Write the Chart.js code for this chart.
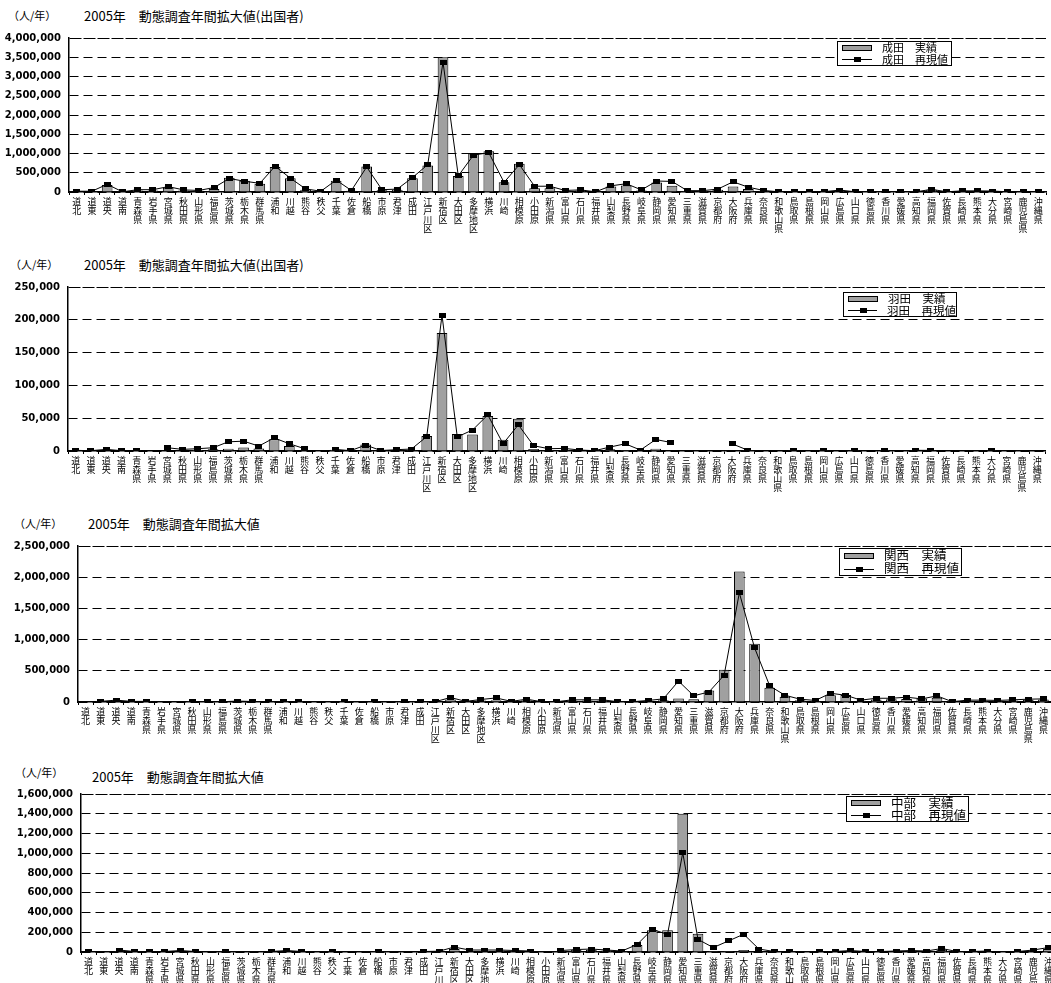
<!DOCTYPE html>
<html lang="ja">
<head>
<meta charset="utf-8">
<title>2005年 動態調査年間拡大値</title>
<script src="https://cdn.jsdelivr.net/npm/chart.js@4/dist/chart.umd.min.js"></script>
<style>
  html, body { margin:0; padding:0; background:#fff; width:1051px; height:983px; overflow:hidden; }
  body { position:relative; }
  canvas { position:absolute; left:0; }
  .txt { position:absolute; white-space:nowrap; color:#000; font-family:"Noto Sans CJK JP", sans-serif; }
  .legend { position:absolute; box-sizing:border-box; border:1px solid #000; background:#fff;
            font-family:"Noto Sans CJK JP", sans-serif; color:#000; display:flex; flex-direction:column;
            justify-content:center; }
  .legend .row { display:flex; align-items:center; flex:1; white-space:nowrap; line-height:1; }
  .legend .sw { position:relative; display:inline-block; width:30px; height:100%; margin-left:4px; margin-right:10px; }
  .legend .sw.bar::before { content:''; position:absolute; left:0; right:0; top:50%; height:6px; margin-top:-3px;
                            background:#a0a0a0; border:1px solid #000; box-sizing:border-box; }
  .legend .sw.line::before { content:''; position:absolute; left:0; right:0; top:50%; border-top:1px solid #000; }
  .legend .sw.line::after { content:''; position:absolute; left:12px; width:7px; height:5px; top:50%; margin-top:-2px; background:#000; }
</style>
</head>
<body>
<script>
// ---- 地域区分 ----
const categories = [
  '道北','道東','道央','道南','青森県','岩手県','宮城県','秋田県','山形県','福島県',
  '茨城県','栃木県','群馬県','浦和','川越','熊谷','秩父','千葉','佐倉','船橋',
  '市原','君津','成田','江戸川区','新宿区','大田区','多摩地区','横浜','川崎','相模原',
  '小田原','新潟県','富山県','石川県','福井県','山梨県','長野県','岐阜県','静岡県','愛知県',
  '三重県','滋賀県','京都府','大阪府','兵庫県','奈良県','和歌山県','鳥取県','島根県','岡山県',
  '広島県','山口県','徳島県','香川県','愛媛県','高知県','福岡県','佐賀県','長崎県','熊本県',
  '大分県','宮崎県','鹿児島県','沖縄県'
];

// ---- 成田（出国者） ----
const naritaActual = [
  15000,10000,180000,5000,40000,40000,110000,40000,30000,80000,
  370000,290000,215000,650000,360000,60000,10000,290000,30000,660000,
  45000,60000,360000,690000,3500000,415000,1000000,1060000,255000,735000,
  100000,100000,30000,40000,5000,140000,170000,40000,250000,160000,
  25000,25000,60000,140000,75000,30000,5000,3000,3000,5000,
  40000,5000,3000,5000,5000,3000,60000,3000,20000,20000,
  15000,3000,5000,3000
];
const naritaModel = [
  20000,20000,200000,5000,60000,60000,140000,55000,40000,115000,
  350000,280000,225000,670000,360000,80000,20000,310000,40000,650000,
  60000,75000,375000,710000,3375000,420000,960000,1020000,250000,710000,
  150000,150000,40000,55000,5000,160000,215000,55000,285000,275000,
  35000,35000,75000,265000,125000,40000,5000,5000,5000,10000,
  50000,5000,5000,10000,10000,5000,70000,5000,30000,30000,
  25000,5000,10000,5000
];

// ---- 羽田（出国者） ----
const hanedaActual = [
  300,200,1000,200,200,0,1000,1000,2000,2500,
  3500,5500,4000,18000,7500,1000,0,2000,200,10000,
  300,1000,1500,23000,180000,26000,25000,53500,17000,49000,
  3000,1500,1500,500,200,2500,1500,500,3500,1000,
  0,0,0,500,200,0,0,200,0,200,
  0,100,0,100,0,200,200,0,0,0,
  200,0,0,0
];
const hanedaModel = [
  1000,500,2500,500,500,null,5000,2500,3500,5000,
  14000,15000,7500,20000,11000,3500,null,2500,500,9000,
  700,2000,3000,22000,207000,21500,32000,55000,11000,40000,
  8000,3500,4000,1500,500,6000,11000,1500,17500,13000,
  null,null,null,11000,1500,null,null,1000,null,1000,
  null,800,null,800,null,1000,1000,null,null,null,
  1000,null,null,null
];

// ---- 関西 ----
const kansaiActual = [
  0,2000,10000,2000,2000,0,0,2000,2000,2000,
  5000,3000,2000,2000,2000,0,0,2000,0,3000,
  0,1000,1000,1000,40000,3000,25000,30000,3000,30000,
  2000,2000,25000,25000,25000,2000,2000,15000,30000,55000,
  45000,185000,515000,2090000,935000,230000,85000,30000,15000,108000,
  113000,20000,40000,45000,50000,55000,70000,2000,20000,20000,
  15000,25000,35000,40000
];
const kansaiModel = [
  null,10000,30000,10000,10000,null,null,5000,5000,5000,
  15000,8000,5000,5000,5000,null,null,5000,null,10000,
  null,5000,5000,5000,72000,10000,40000,65000,10000,45000,
  5000,5000,35000,35000,35000,5000,5000,25000,50000,335000,
  100000,160000,430000,1750000,870000,257000,108000,45000,25000,140000,
  108000,30000,60000,60000,77000,50000,98000,5000,30000,30000,
  25000,35000,45000,50000
];

// ---- 中部 ----
const chubuActual = [
  5000,0,10000,2000,2000,2000,5000,2000,0,2000,
  0,0,2000,5000,2000,0,2000,0,0,2000,
  0,0,2000,2000,30000,10000,10000,15000,10000,5000,
  0,10000,20000,20000,15000,5000,70000,220000,220000,1400000,
  185000,10000,10000,20000,5000,2000,2000,0,2000,2000,
  10000,2000,2000,5000,10000,5000,20000,2000,2000,5000,
  0,2000,10000,30000
];
const chubuModel = [
  10000,null,20000,5000,5000,5000,15000,5000,null,5000,
  null,null,5000,15000,5000,null,5000,null,null,5000,
  null,null,5000,8000,50000,20000,20000,20000,15000,10000,
  null,15000,25000,30000,20000,10000,75000,230000,178000,1005000,
  128000,45000,112000,180000,30000,5000,5000,null,5000,5000,
  15000,5000,5000,10000,15000,10000,35000,5000,5000,10000,
  null,5000,20000,45000
];

// ---- 見出し・凡例の文字 ----
const unitLabel = '（人/年）';
const titleOutbound = '2005年　動態調査年間拡大値(出国者)';
const titleTotal = '2005年　動態調査年間拡大値';
const airportNames = ['成田', '羽田', '関西', '中部'];
const actualSuffix = '　実績';
const modelSuffix = '　再現値';
const panelTitles = [titleOutbound, titleOutbound, titleTotal, titleTotal];
const actualSeries = [naritaActual, hanedaActual, kansaiActual, chubuActual];
const modelSeries = [naritaModel, hanedaModel, kansaiModel, chubuModel];
const yMax = [4000000, 250000, 2500000, 1600000];
const yStep = [500000, 50000, 500000, 200000];

// ---- 各グラフの配置 ----
const frames = [
  { plotTop: 32,  plotBottom: 192, left: 69, catW: 15.33, unitX: 8,  unitY: 15,  titleX: 84, titleY: 15,
    legend: { x: 837, y: 41,  w: 115, h: 25, font: 11 } },
  { plotTop: 281, plotBottom: 451, left: 68, catW: 15.33, unitX: 10, unitY: 264, titleX: 84, titleY: 264,
    legend: { x: 843, y: 292, w: 114, h: 25, font: 11.5 } },
  { plotTop: 540, plotBottom: 702, left: 78, catW: 15.27, unitX: 14, unitY: 523, titleX: 88, titleY: 523,
    legend: { x: 839, y: 548, w: 123, h: 28, font: 12.5 } },
  { plotTop: 788, plotBottom: 952, left: 81, catW: 15.3,  unitX: 15, unitY: 772, titleX: 92, titleY: 776,
    legend: { x: 846, y: 796, w: 123, h: 26, font: 12.5 } }
];

const PAD_TOP = 8;
const X_AXIS_H = 48;

// 再現値の四角マーカー
const marker = document.createElement('canvas');
marker.width = 7; marker.height = 5;
(function () { const c = marker.getContext('2d'); c.fillStyle = '#000'; c.fillRect(0, 0, 7, 5); })();

function addText(text, x, cy, size) {
  const d = document.createElement('div');
  d.className = 'txt';
  d.textContent = text;
  d.style.left = x + 'px';
  d.style.top = (cy - size / 2) + 'px';
  d.style.fontSize = size + 'px';
  d.style.lineHeight = size + 'px';
  document.body.appendChild(d);
}

function addLegend(chart, spec) {
  const box = document.createElement('div');
  box.className = 'legend';
  box.style.left = spec.x + 'px';
  box.style.top = spec.y + 'px';
  box.style.width = spec.w + 'px';
  box.style.height = spec.h + 'px';
  box.style.fontSize = spec.font + 'px';
  chart.data.datasets.forEach(ds => {
    const row = document.createElement('div');
    row.className = 'row';
    const sw = document.createElement('span');
    sw.className = 'sw ' + (ds.type === 'line' ? 'line' : 'bar');
    const label = document.createElement('span');
    label.textContent = ds.label;
    row.appendChild(sw);
    row.appendChild(label);
    box.appendChild(row);
  });
  document.body.appendChild(box);
}

frames.forEach((f, k) => {
  addText(unitLabel, f.unitX, f.unitY, 11);
  addText(panelTitles[k], f.titleX, f.titleY, 13);

  const cv = document.createElement('canvas');
  const w = Math.ceil(f.left + categories.length * f.catW);
  const h = (f.plotBottom - f.plotTop) + PAD_TOP + X_AXIS_H;
  cv.width = w; cv.height = h;
  cv.style.width = w + 'px'; cv.style.height = h + 'px';
  cv.style.top = (f.plotTop - PAD_TOP) + 'px';
  document.body.appendChild(cv);

  const max = yMax[k];
  const chart = new Chart(cv.getContext('2d'), {
    data: {
      labels: categories.map(s => Array.from(s)),
      datasets: [
        {
          type: 'bar', label: airportNames[k] + actualSuffix, data: actualSeries[k], order: 2,
          backgroundColor: '#a0a0a0', borderColor: '#000', borderWidth: 1,
          barPercentage: 0.7, categoryPercentage: 1.0
        },
        {
          type: 'line', label: airportNames[k] + modelSuffix, data: modelSeries[k], order: 1,
          borderColor: '#000', borderWidth: 1, tension: 0, spanGaps: false,
          pointStyle: marker, pointRadius: 3, pointBackgroundColor: '#000', pointBorderColor: '#000'
        }
      ]
    },
    options: {
      responsive: false, animation: false, devicePixelRatio: 1,
      layout: { padding: { top: PAD_TOP, right: 0, bottom: 0, left: 0 } },
      plugins: { legend: { display: false }, tooltip: { enabled: false } },
      scales: {
        x: {
          type: 'category', offset: true,
          grid: { display: true, offset: true, drawOnChartArea: false, drawTicks: true, tickLength: 3, color: '#000', lineWidth: 1 },
          border: { display: true, color: '#000', width: 1.5 },
          ticks: {
            autoSkip: false, maxRotation: 0, minRotation: 0, padding: 2, color: '#000',
            font: { family: '"Noto Sans CJK JP"', size: 9, lineHeight: 1 }
          },
          afterFit: s => { s.height = X_AXIS_H; }
        },
        y: {
          min: 0, max: max,
          grid: { color: '#000', lineWidth: 1, drawTicks: false },
          border: {
            display: true, color: '#000', width: 1.5,
            dash: c => (c.tick && c.tick.value >= max) ? [12, 2] : [9, 5]
          },
          ticks: {
            stepSize: yStep[k], padding: 8, color: '#000',
            font: { family: '"DejaVu Sans"', size: 10, weight: 'bold' },
            callback: v => Number(v).toLocaleString('en-US')
          },
          afterFit: s => { s.width = f.left; }
        }
      }
    }
  });
  addLegend(chart, f.legend);
});
</script>
</body>
</html>
